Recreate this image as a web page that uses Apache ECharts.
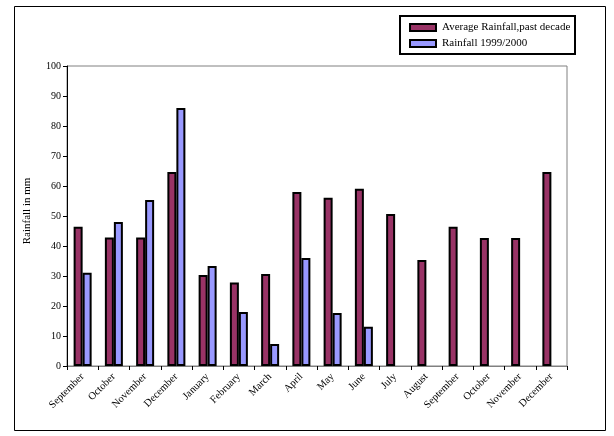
<!DOCTYPE html>
<html>
<head>
<meta charset="utf-8">
<script src="https://cdn.jsdelivr.net/npm/echarts@6/dist/echarts.min.js"></script>
<style>html,body{margin:0;padding:0;background:#fff}#c{width:614px;height:436px}</style>
</head>
<body>
<div id="c"></div>
<script>
const categories = ['September','October','November','December','January','February','March','April','May','June','July','August','September','October','November','December'];
const avgRainfall = [46.4, 42.8, 42.8, 64.7, 30.3, 27.8, 30.7, 58, 56.1, 59.1, 50.7, 35.3, 46.4, 42.7, 42.7, 64.7];
const rainfall9900 = [31.1, 48, 55.3, 86, 33.3, 18, 7.3, 36, 17.7, 13.1, null, null, null, null, null, null];
const seriesNames = ['Average Rainfall,past decade', 'Rainfall 1999/2000'];
const yTitle = 'Rainfall in mm';

const FONT = 'Liberation Serif';
const chart = echarts.init(document.getElementById('c'), null, {renderer: 'canvas'});
chart.setOption({
  animation: false,
  backgroundColor: '#fff',
  textStyle: {fontFamily: FONT, color: '#000'},
  grid: {left: 67, top: 66, width: 500, height: 300, show: true, borderColor: '#808080', borderWidth: 1, backgroundColor: 'transparent'},
  graphic: [
    {type: 'rect', shape: {x: 14.5, y: 6.5, width: 591, height: 424}, style: {fill: 'none', stroke: '#000', lineWidth: 1}, z: -1},
    {type: 'rect', shape: {x: 400, y: 16, width: 175, height: 38}, style: {fill: '#fff', stroke: '#000', lineWidth: 2}, z: 0}
  ],
  legend: {
    orient: 'vertical', left: 409, top: 22, padding: 0, itemGap: 5,
    itemWidth: 26, itemHeight: 7, icon: 'rect', itemStyle: {borderWidth: 2, borderColor: '#000'},
    textStyle: {fontFamily: FONT, fontSize: 11, color: '#000', padding: [0,0,0,1]},
    data: seriesNames
  },
  xAxis: {
    type: 'category', data: categories,
    axisLine: {lineStyle: {color: '#808080', width: 1}},
    axisTick: {show: true, length: 4, lineStyle: {color: '#000'}},
    axisLabel: {rotate: 45, interval: 0, fontSize: 10.5, fontFamily: FONT, color: '#000', margin: 9}
  },
  yAxis: {
    type: 'value', min: 0, max: 100, interval: 10,
    name: yTitle, nameLocation: 'middle', nameRotate: 90, nameGap: 34,
    nameTextStyle: {fontFamily: FONT, fontSize: 11, color: '#000', padding: [0, 0, 0, 10]},
    axisLine: {show: true, lineStyle: {color: '#000', width: 1}},
    axisTick: {show: true, length: 4, lineStyle: {color: '#000'}},
    axisLabel: {fontSize: 10, fontFamily: FONT, color: '#000', margin: 6},
    splitLine: {show: false}
  },
  series: [
    {name: seriesNames[0], type: 'bar', data: avgRainfall, barWidth: 9, barGap: '0%',
     itemStyle: {color: '#993366', borderColor: '#000', borderWidth: 2}},
    {name: seriesNames[1], type: 'bar', data: rainfall9900, barWidth: 9, barGap: '0%',
     itemStyle: {color: '#9999FF', borderColor: '#000', borderWidth: 2}}
  ]
});
</script>
</body>
</html>
